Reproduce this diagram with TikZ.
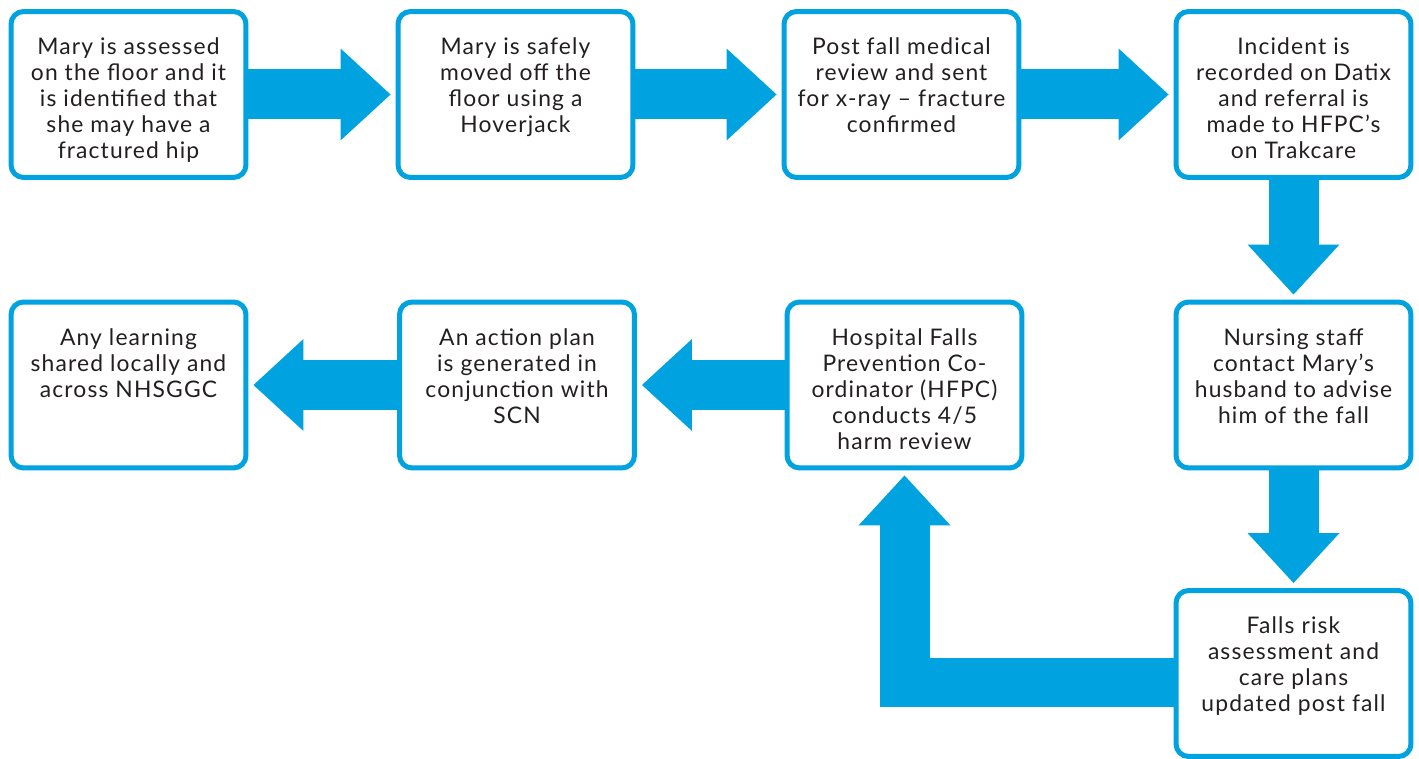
\documentclass[tikz,border=0pt]{standalone}
\usepackage{fontspec}
\setmainfont{Lato}[LetterSpace=5]
\usetikzlibrary{arrows.meta,positioning}

\definecolor{fallblue}{RGB}{0,162,224}
\definecolor{falltext}{RGB}{35,31,32}

\tikzset{
  stepbox/.style={draw=fallblue, line width=0.1cm, rounded corners=0.25cm, fill=white,
    minimum width=4.7cm, minimum height=3.32cm},
  steptext/.style={align=center, text=falltext, inner sep=0pt, outer sep=0pt,
    font=\fontsize{13}{14.8}\selectfont},
  flowarrow/.style={draw=fallblue, line width=1cm, line join=miter, shorten >=0.1cm,
    -{Triangle[width=1.84cm,length=1cm,line width=0pt]}}
}

\begin{document}
\begin{tikzpicture}[x=0.02cm,y=-0.02cm]
\useasboundingbox (0,0) rectangle (1419,759);

\node[stepbox] (b1) at (128.5,94.5) {};
\node[stepbox] (b2) at (515.5,94.5) {};
\node[stepbox] (b3) at (901.5,94.5) {};
\node[stepbox] (b4) at (1293.5,94.5) {};
\node[stepbox] (b5) at (1293.5,385) {};
\node[stepbox] (b6) at (904.5,385) {};
\node[stepbox] (b7) at (517,385) {};
\node[stepbox] (b8) at (128.5,385) {};
\node[stepbox] (b9) at (1293.5,673.5) {};

\node[steptext, below=0.58cm of b1.north] (t1) {Mary is assessed\\on the floor and it\\is identified that\\she may have a\\fractured hip};
\node[steptext, below=0.58cm of b2.north] (t2) {Mary is safely\\moved off the\\floor using a\\Hoverjack};
\node[steptext, below=0.58cm of b3.north] (t3) {Post fall medical\\review and sent\\for x-ray – fracture\\confirmed};
\node[steptext, below=0.58cm of b4.north] (t4) {Incident is\\recorded on Datix\\and referral is\\made to HFPC’s\\on Trakcare};
\node[steptext, below=0.58cm of b5.north] (t5) {Nursing staff\\contact Mary’s\\husband to advise\\him of the fall};
\node[steptext, below=0.58cm of b6.north] (t6) {Hospital Falls\\Prevention Co-\\ordinator (HFPC)\\conducts 4/5\\harm review};
\node[steptext, below=0.58cm of b7.north] (t7) {An action plan\\is generated in\\conjunction with\\SCN};
\node[steptext, below=0.58cm of b8.north] (t8) {Any learning\\shared locally and\\across NHSGGC};
\node[steptext, below=0.58cm of b9.north] (t9) {Falls risk\\assessment and\\care plans\\updated post fall};

\draw[flowarrow] (b1.east) -- (b2.west);
\draw[flowarrow] (b2.east) -- (b3.west);
\draw[flowarrow] (b3.east) -- (b4.west);
\draw[flowarrow] (b4.south) -- (b5.north);
\draw[flowarrow] (b5.south) -- (b9.north);
\draw[flowarrow] ([yshift=-0.18cm]b9.west) -| (b6.south);
\draw[flowarrow] (b6.west) -- (b7.east);
\draw[flowarrow] (b7.west) -- (b8.east);
\end{tikzpicture}
\end{document}
